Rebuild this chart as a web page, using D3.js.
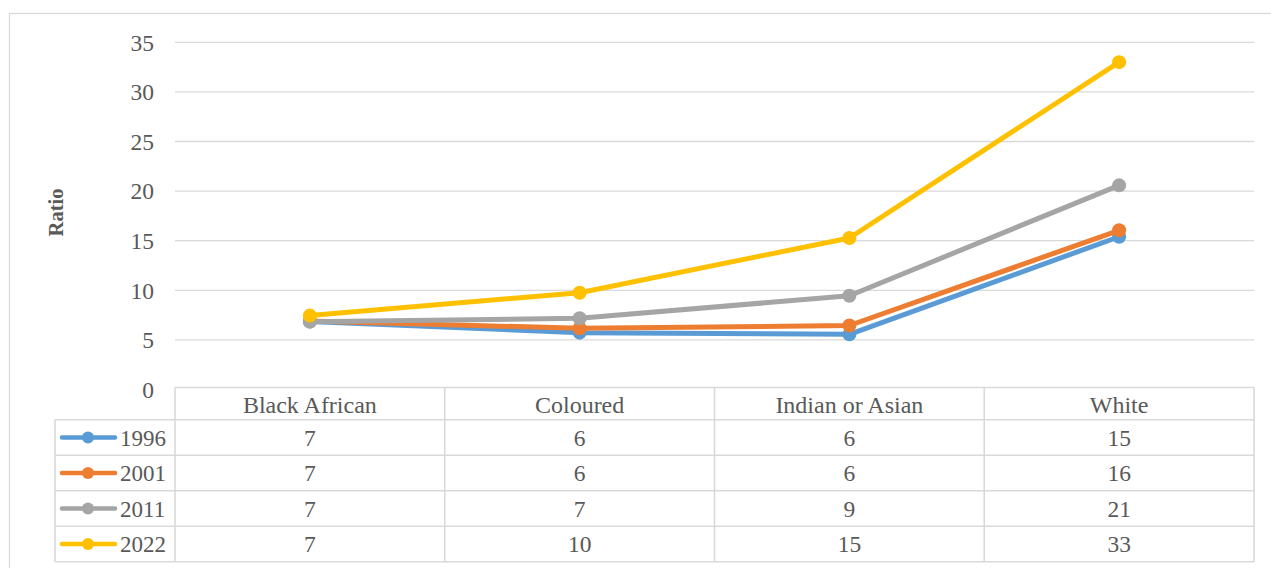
<!DOCTYPE html>
<html>
<head>
<meta charset="utf-8">
<script src="https://cdn.jsdelivr.net/npm/d3@7"></script>
<style>
  html, body { margin: 0; padding: 0; background: #fff; }
  svg { display: block; }
  svg text { font-family: "Times New Roman", "Liberation Serif", "DejaVu Serif", serif; fill: #595959; }
</style>
</head>
<body>
<svg id="chart" width="1271" height="568"></svg>
<script>
// Population groups along the x axis
const categories = ["Black African", "Coloured", "Indian or Asian", "White"];

// Ratio per census year
const years = ["1996", "2001", "2011", "2022"];
const values1996 = [6.85, 5.73, 5.56, 15.4];
const values2001 = [6.9, 6.17, 6.45, 16.05];
const values2011 = [6.84, 7.18, 9.45, 20.58];
const values2022 = [7.45, 9.76, 15.27, 33.0];

const colors = ["#5B9BD5", "#ED7D31", "#A5A5A5", "#FFC000"];
const yTicks = [0, 5, 10, 15, 20, 25, 30, 35];

const series = [values1996, values2001, values2011, values2022].map((vals, i) => ({
  name: years[i], values: vals, color: colors[i]
}));

const FONT = "'Times New Roman', 'Liberation Serif', 'DejaVu Serif', serif";
const FS = 23.5, FS_HEAD = 24;
const svg = d3.select("#chart").style("font-family", FONT);
const plotLeft = 175, plotRight = 1254, plotTop = 42.3, plotBottom = 389.5;
const rowH = 35.5, headerH = 32.2;
const legendLeft = 55;
const gridColor = "#d9d9d9";

// Chart area border
svg.append("rect")
  .attr("x", 9.5).attr("y", 13.5).attr("width", 1270).attr("height", 600)
  .attr("fill", "none").attr("stroke", gridColor).attr("stroke-width", 1.3);

const x = d3.scaleBand().domain(categories).range([plotLeft, plotRight]).padding(0);
const y = d3.scaleLinear().domain([0, 35]).range([plotBottom, plotTop]);

// Horizontal gridlines
svg.append("g").selectAll("line").data(yTicks.filter(t => t > 0)).join("line")
  .attr("x1", plotLeft).attr("x2", plotRight)
  .attr("y1", d => y(d)).attr("y2", d => y(d))
  .attr("stroke", gridColor).attr("stroke-width", 1.3);

// Y axis tick labels
const yAxis = d3.axisLeft(y).tickValues(yTicks).tickSize(0).tickPadding(0);
const yg = svg.append("g").attr("transform", `translate(154,0)`).call(yAxis)
  .attr("font-family", null).attr("font-size", null);
yg.select(".domain").remove();
yg.selectAll("text")
  .style("font-family", FONT)
  .attr("font-size", FS).attr("fill", "#595959").attr("dy", "0.33em");

// Axis title
svg.append("text")
  .attr("transform", `translate(63,212.5) rotate(-90)`)
  .attr("text-anchor", "middle")
  .style("font-family", FONT)
  .attr("font-size", 20.5).attr("font-weight", "bold")
  .text("Ratio");

// Data table grid
const tableTop = plotBottom - 2;
const rowsTop = tableTop + headerH;
const tableBottom = rowsTop + rowH * years.length;
const tg = svg.append("g").attr("stroke", gridColor).attr("stroke-width", 1.6).attr("fill", "none");
tg.append("line").attr("x1", plotLeft).attr("x2", plotRight).attr("y1", tableTop).attr("y2", tableTop);
for (let r = 0; r <= years.length; r++) {
  const yy = rowsTop + r * rowH;
  tg.append("line").attr("x1", legendLeft).attr("x2", plotRight).attr("y1", yy).attr("y2", yy);
}
tg.append("line").attr("x1", legendLeft).attr("x2", legendLeft).attr("y1", rowsTop).attr("y2", tableBottom);
const colEdges = categories.map(c => x(c)).concat([plotRight]);
colEdges.forEach(cx => {
  tg.append("line").attr("x1", cx).attr("x2", cx).attr("y1", tableTop).attr("y2", tableBottom);
});

// Category headers
svg.append("g").selectAll("text").data(categories).join("text")
  .attr("x", d => x(d) + x.bandwidth() / 2)
  .attr("y", tableTop + headerH / 2 + 1)
  .attr("dy", "0.35em")
  .attr("text-anchor", "middle").attr("font-size", FS_HEAD)
  .style("font-family", FONT)
  .text(d => d);

// Table values and legend keys
const fmt = d3.format(".0f");
series.forEach((s, i) => {
  const cy = rowsTop + i * rowH + rowH / 2;
  const row = svg.append("g");
  row.append("line").attr("x1", 62).attr("x2", 115).attr("y1", cy).attr("y2", cy)
    .attr("stroke", s.color).attr("stroke-width", 4.5).attr("stroke-linecap", "round");
  row.append("circle").attr("cx", 88).attr("cy", cy).attr("r", 6).attr("fill", s.color);
  row.append("text").attr("x", 120).attr("y", cy).attr("dy", "0.35em")
    .attr("font-size", 23).style("font-family", FONT).text(s.name);
  row.selectAll("text.val").data(s.values).join("text").attr("class", "val")
    .attr("x", (d, j) => x(categories[j]) + x.bandwidth() / 2)
    .attr("y", cy).attr("dy", "0.35em")
    .attr("text-anchor", "middle").attr("font-size", FS)
    .style("font-family", FONT)
    .text(d => fmt(d));
});

// Lines with markers
const line = d3.line()
  .x((d, j) => x(categories[j]) + x.bandwidth() / 2)
  .y(d => y(d));
series.forEach(s => {
  const g = svg.append("g");
  g.append("path").datum(s.values).attr("d", line)
    .attr("fill", "none").attr("stroke", s.color).attr("stroke-width", 5)
    .attr("stroke-linejoin", "round").attr("stroke-linecap", "round");
  g.selectAll("circle").data(s.values).join("circle")
    .attr("cx", (d, j) => x(categories[j]) + x.bandwidth() / 2)
    .attr("cy", d => y(d))
    .attr("r", 7).attr("fill", s.color);
});
</script>
</body>
</html>
